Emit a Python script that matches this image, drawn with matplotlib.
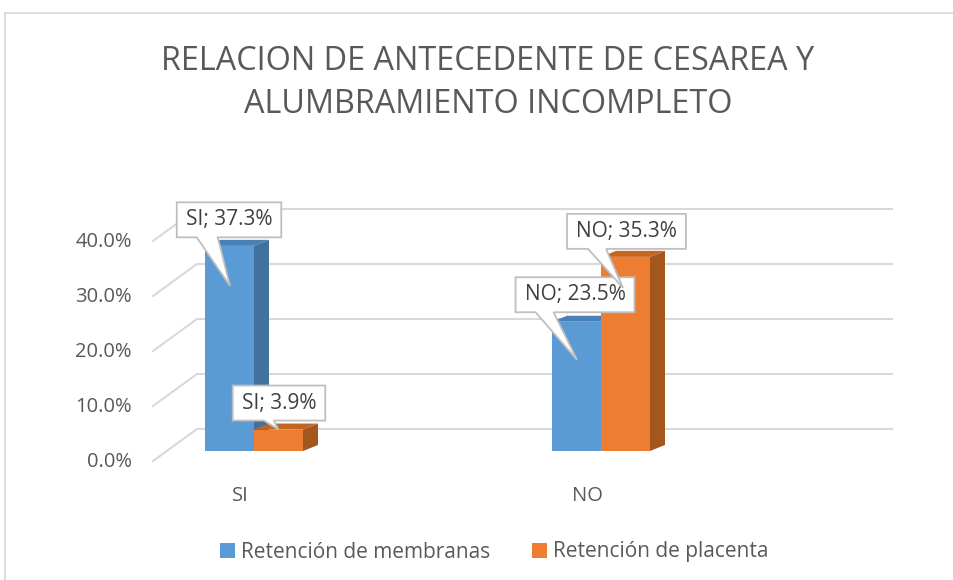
import matplotlib
matplotlib.use("Agg")
import matplotlib.pyplot as plt
from matplotlib.patches import Polygon, Rectangle, Patch
from matplotlib.lines import Line2D
from matplotlib.transforms import IdentityTransform

# ---------------- data ----------------
categories = ["SI", "NO"]
series_names = ["Retención de membranas", "Retención de placenta"]
membranas = [0.373, 0.235]
placenta = [0.039, 0.353]
yticks = [0.0, 0.1, 0.2, 0.3, 0.4]
title = "RELACION DE ANTECEDENTE DE CESAREA Y\nALUMBRAMIENTO INCOMPLETO"

# ---------------- style ----------------
front_cols = ["#5B9BD5", "#ED7D31"]
side_cols = ["#41719C", "#A3561E"]
top_cols = ["#4A80B5", "#C4661F"]
grid_col = "#D9D9D9"
txt_col = "#595959"
lbl_col = "#404040"
box_edge = "#BFBFBF"

plt.rcParams['font.family'] = ['Open Sans', 'DejaVu Sans']

W, H = 954, 580
fig = plt.figure(figsize=(W / 100, H / 100), dpi=100)
ax = fig.add_axes([167 / W, 129 / H, 695 / W, 220 / H])
ax.set_xlim(-87 / 347, 608 / 347)
ax.set_ylim(0, 0.40)
ax.axis('off')

ID = IdentityTransform()


def D(x, y, ox=0.0, oy=0.0):
    px, py = ax.transData.transform((x, y))
    return (px + ox, py + oy)


# chart frame
fig.patches.append(Rectangle((5.5 / W, -0.1), 2, (H - 12.5) / H + 0.1,
                             transform=fig.transFigure, fill=False,
                             ec=grid_col, lw=1.3, zorder=0))

# back wall grid + diagonal floor lines
back = (30, 22)
frontedge = (-14, -10)
x0, x1 = ax.get_xlim()
for t in yticks:
    a = D(x0, t, *frontedge)
    b = D(x0, t, *back)
    c = D(x1, t, *back)
    ax.add_line(Line2D([a[0], b[0], c[0]], [a[1], b[1], c[1]], transform=ID,
                       color=grid_col, lw=1.5, clip_on=False, zorder=1))
    p = D(x0, t, -35, -11)
    ax.text(p[0], p[1], f"{t * 100:.1f}%", transform=ID, ha='right',
            va='center', fontsize=14.5, color=txt_col)

# 3D bars
w = 49 / 347
ddx, ddy = 15, 6
series = [membranas, placenta]
for ci, cat in enumerate(categories):
    for si, vals in enumerate(series):
        v = vals[ci]
        xl = ci - w + si * w
        xr = xl + w
        side = [D(xr, 0), D(xr, 0, ddx, ddy), D(xr, v, ddx, ddy), D(xr, v)]
        top = [D(xl, v), D(xl, v, ddx, ddy), D(xr, v, ddx, ddy), D(xr, v)]
        front = [D(xl, 0), D(xr, 0), D(xr, v), D(xl, v)]
        for pts, col in ((side, side_cols[si]), (top, top_cols[si]), (front, front_cols[si])):
            ax.add_patch(Polygon(pts, closed=True, transform=ID, fc=col,
                                 ec='none', clip_on=False, zorder=2))
    p = D(ci, 0, -14, -45)
    ax.text(p[0], p[1], cat, transform=ID, ha='center', va='center',
            fontsize=14.5, color=txt_col)

# callout labels (layout offsets in pixels, display y up)
tip_off = [[(0.5, -40), (0, 0)], [(0.5, -38), (-2.5, -31)]]
box_off = [[(-1, 66), (0.5, 26.5)], [(-2, 65), (3.5, 56.5)]]
base_rng = [[(20, 41), (31, 41)], [(20, 38), (21, 39)]]
box_h = 35
pad_x = 9

fig.canvas.draw()
renderer = fig.canvas.get_renderer()
for si, vals in enumerate(series):
    for ci, cat in enumerate(categories):
        v = vals[ci]
        xc = ci - w + si * w + w / 2
        tx, ty = D(xc, v, *tip_off[ci][si])
        cx, cy = tx + box_off[ci][si][0], ty + box_off[ci][si][1]
        t = ax.text(cx, cy, f"{cat}; {v * 100:.1f}%", transform=ID,
                    ha='center', va='center', fontsize=15, color=lbl_col,
                    zorder=6 + 2 * si, clip_on=False)
        tw = t.get_window_extent(renderer).width
        bw = tw + 2 * pad_x
        L, R = cx - bw / 2, cx + bw / 2
        B, T = cy - box_h / 2, cy + box_h / 2
        b0, b1 = base_rng[ci][si]
        shape = [(L, T), (R, T), (R, B), (L + b1, B), (tx, ty), (L + b0, B), (L, B)]
        ax.add_patch(Polygon(shape, closed=True, transform=ID, fc='white',
                             ec=box_edge, lw=1.3, clip_on=False,
                             zorder=5 + 2 * si, joinstyle='miter'))

# title
fig.text(488 / W, 1 - 83 / H, title, ha='center', va='center',
         fontsize=23.3, color=txt_col, linespacing=1.37)

# legend
handles = [Patch(fc=c, ec='none') for c in front_cols]
fig.legend(handles, series_names, loc='center', bbox_to_anchor=(494.5 / W, 28 / H),
           ncol=2, frameon=False, handlelength=0.7, handleheight=0.7,
           handletextpad=0.3, columnspacing=2.0, fontsize=15,
           labelcolor=txt_col)

fig.savefig("out.png", dpi=100)
